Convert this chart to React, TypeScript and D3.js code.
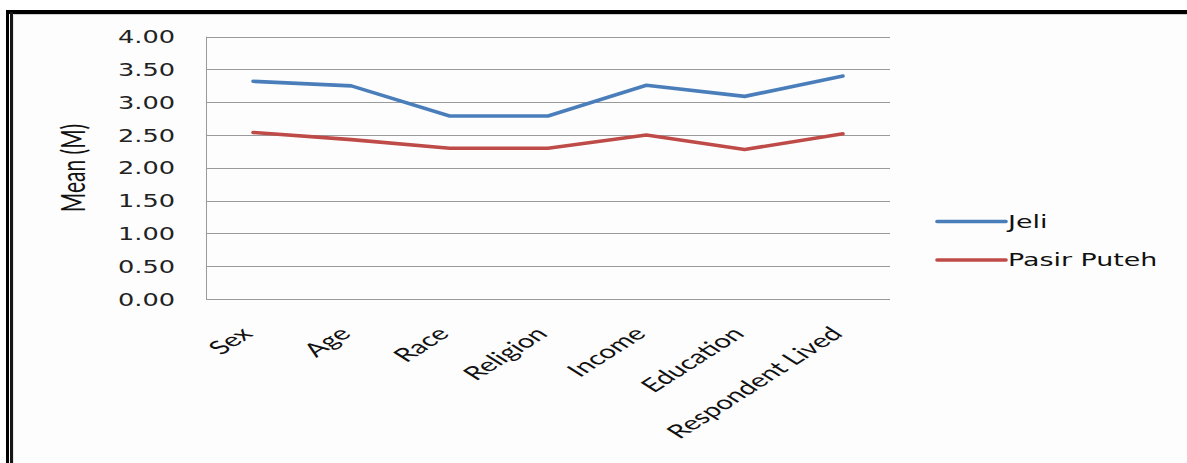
import React from "react";
import * as d3 from "d3";

// Mean scores per demographic factor for the two districts
const categories = ["Sex", "Age", "Race", "Religion", "Income", "Education", "Respondent Lived"];
const jeli = [3.32, 3.25, 2.79, 2.79, 3.26, 3.09, 3.4];
const pasirPuteh = [2.54, 2.43, 2.3, 2.3, 2.5, 2.28, 2.52];
const yTicks = [0, 0.5, 1, 1.5, 2, 2.5, 3, 3.5, 4];

const seriesList = [
  { name: "Jeli", values: jeli, color: "#4a7ebb" },
  { name: "Pasir Puteh", values: pasirPuteh, color: "#be4b48" },
];

const W = 1187;
const H = 463;
const plotLeft = 206;
const plotRight = 890;
const plotTop = 36.7;
const plotBottom = 299;

export default function App() {
  const x = d3.scalePoint<string>().domain(categories).range([253, 843]);
  const y = d3.scaleLinear().domain([0, 4]).range([plotBottom, plotTop]);
  const line = d3
    .line<number>()
    .x((_, i) => x(categories[i]) as number)
    .y((d) => y(d));

  const tickFont = "'DejaVu Sans', Verdana, sans-serif";
  const catFont = "Lato, 'Open Sans', sans-serif";

  return (
    <svg
      width={W}
      height={H}
      style={{ position: "absolute", left: 0, top: 0, background: "#ffffff" }}
    >
      {/* page frame */}
      <rect x={6} y={10} width={W - 6} height={H - 10} fill="#fdfdfd" />
      <rect x={6} y={10} width={W - 6} height={4} fill="#000" />
      <rect x={6} y={10} width={3} height={H - 10} fill="#000" />
      <rect x={9} y={14} width={1} height={H - 14} fill="#fff" />
      <rect x={10} y={12} width={3} height={H - 12} fill="#161616" />
      <line x1={13} x2={W} y1={14.5} y2={14.5} stroke="#cfcfcf" strokeWidth={1} />
      <line x1={13.5} x2={13.5} y1={14} y2={H} stroke="#e6e6e6" strokeWidth={1} />

      {/* gridlines */}
      {yTicks.map((t) => (
        <line
          key={t}
          x1={plotLeft}
          x2={plotRight}
          y1={Math.round(y(t)) + 0.5}
          y2={Math.round(y(t)) + 0.5}
          stroke="#9a9a9a"
          strokeWidth={1}
        />
      ))}
      <line
        x1={plotLeft + 0.5}
        x2={plotLeft + 0.5}
        y1={plotTop}
        y2={plotBottom + 0.5}
        stroke="#9a9a9a"
        strokeWidth={1}
      />

      {/* y tick labels */}
      {yTicks.map((t) => (
        <text
          key={t}
          transform={`translate(175,${y(t)}) scale(1.6,1.15)`}
          textAnchor="end"
          dominantBaseline="central"
          fontFamily={tickFont}
          fontSize={16}
          fill="#222"
        >
          {t.toFixed(2)}
        </text>
      ))}

      {/* y axis title */}
      <text
        transform={`translate(73,168) scale(1.55,1) rotate(-90)`}
        textAnchor="middle"
        dominantBaseline="central"
        fontFamily={catFont}
        fontSize={21}
        fill="#111"
      >
        Mean (M)
      </text>

      {/* category labels */}
      {categories.map((c) => (
        <text
          key={c}
          transform={`translate(${(x(c) as number) + 1},335) scale(1.65,1.05) rotate(-45)`}
          textAnchor="end"
          fontFamily={catFont}
          fontSize={18}
          fill="#111"
        >
          {c}
        </text>
      ))}

      {/* series lines */}
      {seriesList.map((s) => (
        <path
          key={s.name}
          d={line(s.values) || ""}
          fill="none"
          stroke={s.color}
          strokeWidth={3.6}
          strokeLinejoin="round"
          strokeLinecap="round"
        />
      ))}

      {/* legend */}
      {seriesList.map((s, i) => {
        const ly = 221.5 + i * 38.5;
        return (
          <g key={s.name}>
            <line
              x1={937}
              x2={1006}
              y1={ly}
              y2={ly}
              stroke={s.color}
              strokeWidth={3.6}
              strokeLinecap="round"
            />
            <text
              transform={`translate(1008,${ly}) scale(1.68,1.15)`}
              dominantBaseline="central"
              fontFamily={tickFont}
              fontSize={16}
              fill="#111"
            >
              {s.name}
            </text>
          </g>
        );
      })}
    </svg>
  );
}
